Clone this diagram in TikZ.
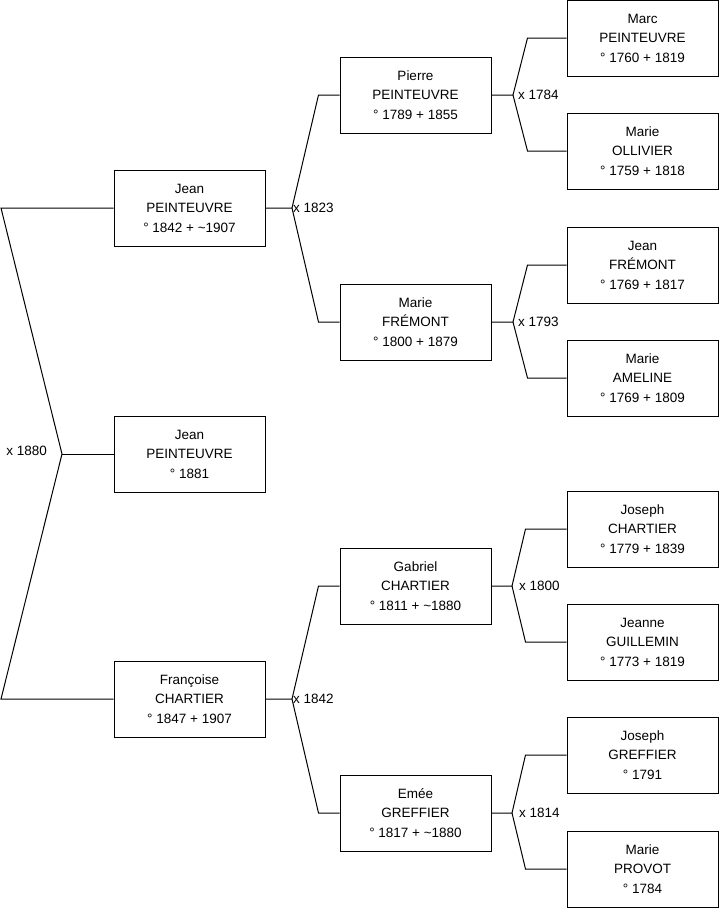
\documentclass[tikz,border=0pt]{standalone}
\usepackage{fontspec}
\setmainfont{Liberation Sans}
\usepackage{tikz}
\usetikzlibrary{positioning,calc}

\begin{document}
\begin{tikzpicture}[x=1pt, y=-1pt,
        person/.style={rectangle, draw=black, line width=1pt, minimum width=151pt, minimum height=76pt, inner sep=0pt, align=center, font=\fontsize{13.5}{19.5}\selectfont},
        link/.style={draw=black, line width=1pt},
        wedding/.style={anchor=west, inner sep=1pt, font=\fontsize{13.5}{16}\selectfont}
    ]
    \useasboundingbox (0,0) rectangle (719,908);

    % Generation 1
    \node[person] (ego) at (189.5,454) {Jean\\PEINTEUVRE\\\textdegree{} 1881};

    % Generation 2 (parents)
    \node[person] (jean) at (189.5,208) {Jean\\PEINTEUVRE\\\textdegree{} 1842 + \textasciitilde1907};
    \node[person] (francoise) at (189.5,699) {Françoise\\CHARTIER\\\textdegree{} 1847 + 1907};

    % Generation 3 (grandparents)
    \node[person] (pierre) at (415.5,95) {Pierre\\PEINTEUVRE\\\textdegree{} 1789 + 1855};
    \node[person] (mariefr) at (415.5,322) {Marie\\FRÉMONT\\\textdegree{} 1800 + 1879};
    \node[person] (gabriel) at (415.5,586) {Gabriel\\CHARTIER\\\textdegree{} 1811 + \textasciitilde1880};
    \node[person] (emee) at (415.5,813) {Emée\\GREFFIER\\\textdegree{} 1817 + \textasciitilde1880};

    % Generation 4 (great-grandparents)
    \node[person] (marc) at (642.5,38) {Marc\\PEINTEUVRE\\\textdegree{} 1760 + 1819};
    \node[person] (marieol) at (642.5,151) {Marie\\OLLIVIER\\\textdegree{} 1759 + 1818};
    \node[person] (jeanfr) at (642.5,265) {Jean\\FRÉMONT\\\textdegree{} 1769 + 1817};
    \node[person] (marieam) at (642.5,378) {Marie\\AMELINE\\\textdegree{} 1769 + 1809};
    \node[person] (josephch) at (642.5,529) {Joseph\\CHARTIER\\\textdegree{} 1779 + 1839};
    \node[person] (jeanne) at (642.5,642) {Jeanne\\GUILLEMIN\\\textdegree{} 1773 + 1819};
    \node[person] (josephgr) at (642.5,755) {Joseph\\GREFFIER\\\textdegree{} 1791};
    \node[person] (marieprov) at (642.5,869) {Marie\\PROVOT\\\textdegree{} 1784};

    % Marriage of the parents
    \coordinate (m1880) at (62,454);
    \coordinate (m1880t) at (1,208);
    \coordinate (m1880b) at (1,699);
    \draw[link] (jean.west) -- (m1880t) -- (m1880) -- (m1880b) -- (francoise.west);
    \draw[link] (m1880) -- (ego.west);
    \node[anchor=east, inner sep=1pt, font=\fontsize{13.5}{16}\selectfont] (w1880) at (48,451) {x 1880};

    % Marriages of the grandparents
    \coordinate (m1823) at (292,208);
    \draw[link] (jean.east) -- (m1823) -- ([xshift=-21pt]pierre.west) -- (pierre.west);
    \draw[link] (m1823) -- ([xshift=-21pt]mariefr.west) -- (mariefr.west);
    \node[wedding] (w1823) at (m1823) {x 1823};

    \coordinate (m1842) at (292,699);
    \draw[link] (francoise.east) -- (m1842) -- ([xshift=-21pt]gabriel.west) -- (gabriel.west);
    \draw[link] (m1842) -- ([xshift=-21pt]emee.west) -- (emee.west);
    \node[wedding] (w1842) at (m1842) {x 1842};

    % Marriages of the great-grandparents
    \coordinate (m1784) at (513,95);
    \draw[link] (pierre.east) -- (m1784) -- ([xshift=-39pt]marc.west) -- (marc.west);
    \draw[link] (m1784) -- ([xshift=-39pt]marieol.west) -- (marieol.west);
    \node[wedding] (w1784) at ([xshift=4pt]m1784) {x 1784};

    \coordinate (m1793) at (513,322);
    \draw[link] (mariefr.east) -- (m1793) -- ([xshift=-39pt]jeanfr.west) -- (jeanfr.west);
    \draw[link] (m1793) -- ([xshift=-39pt]marieam.west) -- (marieam.west);
    \node[wedding] (w1793) at ([xshift=4pt]m1793) {x 1793};

    \coordinate (m1800) at (512,586);
    \draw[link] (gabriel.east) -- (m1800) -- ([xshift=-41pt]josephch.west) -- (josephch.west);
    \draw[link] (m1800) -- ([xshift=-41pt]jeanne.west) -- (jeanne.west);
    \node[wedding] (w1800) at ([xshift=6pt]m1800) {x 1800};

    \coordinate (m1814) at (512,813);
    \draw[link] (emee.east) -- (m1814) -- ([xshift=-41pt]josephgr.west) -- (josephgr.west);
    \draw[link] (m1814) -- ([xshift=-41pt]marieprov.west) -- (marieprov.west);
    \node[wedding] (w1814) at ([xshift=6pt]m1814) {x 1814};

\end{tikzpicture}
\end{document}
